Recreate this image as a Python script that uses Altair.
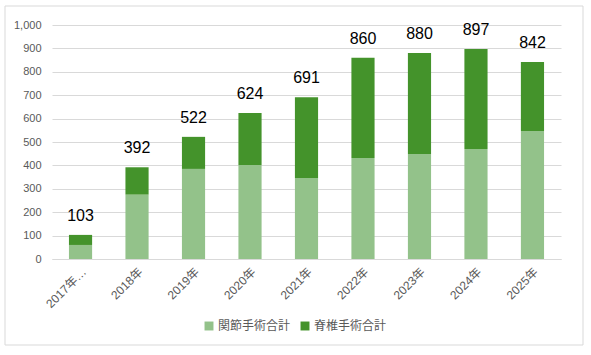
import altair as alt
import pandas as pd

years = ["2017年…", "2018年", "2019年", "2020年", "2021年", "2022年", "2023年", "2024年", "2025年"]
joint = [60, 275, 385, 402, 346, 432, 449, 470, 547]
spine = [43, 117, 137, 222, 345, 428, 431, 427, 295]
series = ["関節手術合計", "脊椎手術合計"]
colors = ["#93C28A", "#44932B"]
yticks = [0, 100, 200, 300, 400, 500, 600, 700, 800, 900, 1000]

rows = []
for y, j, s in zip(years, joint, spine):
    rows.append({"year": y, "series": series[0], "value": j, "ord": 0})
    rows.append({"year": y, "series": series[1], "value": s, "ord": 1})
df = pd.DataFrame(rows)

FONT = "'Liberation Sans', 'Noto Sans CJK JP', sans-serif"

xaxis = alt.Axis(labelAngle=-45, labelAlign="right", labelBaseline="top",
                 labelColor="#595959", labelFontSize=12, labelFont=FONT,
                 ticks=False, domainColor="#d9d9d9", labelPadding=7,
                 labelLimit=200, labelOverlap=False)
xscale = alt.Scale(paddingInner=0.59, paddingOuter=0.3)
yaxis = alt.Axis(values=yticks, format=",d",
                 labelColor="#595959", labelFontSize=11, labelFont=FONT,
                 ticks=False, domain=False, gridColor="#d9d9d9",
                 labelPadding=11, labelOverlap=False)
yscale = alt.Scale(domain=[0, 1000], nice=False)

bars = alt.Chart(df).mark_bar().encode(
    x=alt.X("year:N", sort=years, title=None, scale=xscale, axis=xaxis),
    y=alt.Y("value:Q", stack="zero", title=None, scale=yscale, axis=yaxis),
    color=alt.Color("series:N", sort=series, title=None,
                    scale=alt.Scale(domain=series, range=colors),
                    legend=alt.Legend(orient="none", legendX=151, legendY=295,
                                      direction="horizontal", symbolType="square",
                                      symbolSize=80, symbolStrokeWidth=0,
                                      labelFontSize=12, labelColor="#595959",
                                      labelFont=FONT, columnPadding=8,
                                      symbolOffset=0, labelOffset=3)),
    order=alt.Order("ord:Q", sort="ascending"),
)

labels = alt.Chart(df).transform_aggregate(
    total="sum(value)", groupby=["year"]
).mark_text(dy=-11, fontSize=16, color="#000000", font=FONT, baseline="bottom").encode(
    x=alt.X("year:N", sort=years, title=None, scale=xscale, axis=xaxis),
    y=alt.Y("total:Q", title=None, scale=yscale, axis=yaxis),
    text=alt.Text("total:Q"),
)

frame = alt.Chart(pd.DataFrame({"a": [0]})).mark_rect(
    fill=None, stroke="#d9d9d9", strokeWidth=1
).encode(x=alt.value(-47), x2=alt.value(531), y=alt.value(-19), y2=alt.value(320))

chart = alt.layer(frame, bars, labels).properties(
    width=509, height=234,
    autosize=alt.AutoSizeParams(type="none"),
    padding={"left": 52, "top": 25, "right": 30, "bottom": 96},
    background="white",
).configure_view(stroke=None)

chart.save("out.html", embed_options={"renderer": "svg", "actions": False})
